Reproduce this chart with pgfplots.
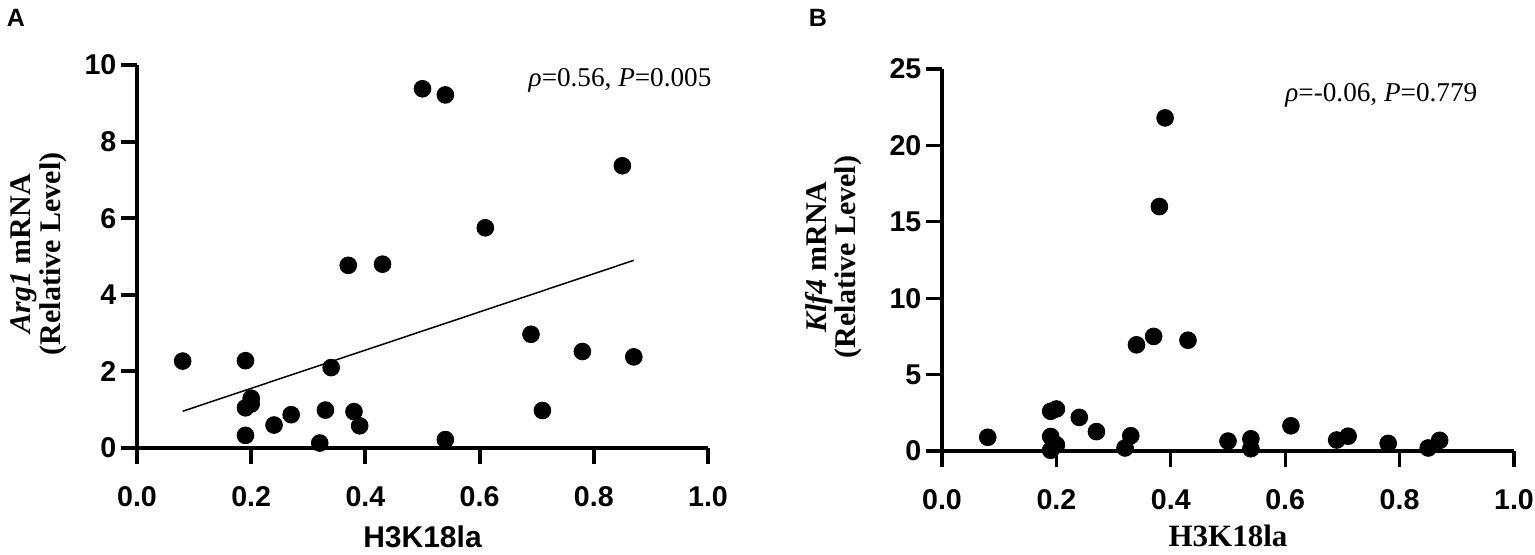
\documentclass[border=0pt]{standalone}
\usepackage{pgfplots}
\pgfplotsset{compat=1.18}
\usepackage{fontspec}
\setmainfont{Liberation Serif}
\newfontfamily\arial{Liberation Sans}

\pgfplotstableread{
x y
0.08 2.27
0.19 2.28
0.19 1.05
0.20 1.30
0.20 1.15
0.19 0.33
0.24 0.60
0.27 0.87
0.32 0.13
0.33 0.99
0.34 2.10
0.37 4.77
0.38 0.95
0.39 0.58
0.43 4.80
0.50 9.38
0.54 9.22
0.54 0.22
0.61 5.75
0.69 2.97
0.71 0.98
0.78 2.52
0.85 7.37
0.87 2.38
}\dataA

\pgfplotstableread{
x y
0.08 0.90
0.19 2.60
0.20 2.75
0.19 0.95
0.19 0.05
0.20 0.40
0.24 2.20
0.27 1.27
0.32 0.20
0.33 1.00
0.34 6.95
0.37 7.50
0.38 16.00
0.39 21.80
0.43 7.25
0.50 0.65
0.54 0.80
0.54 0.15
0.61 1.65
0.69 0.72
0.71 0.97
0.78 0.50
0.85 0.20
0.87 0.70
}\dataB

\pgfplotsset{
  myax/.style={
    scale only axis,
    anchor=south west,
    axis lines=left,
    axis line style={-, line width=#1},
    every tick/.style={black, line width=#1},
    tick align=outside,
    major tick length=7.8pt,
    minor tick num=0,
    xmin=0, xmax=1,
    xtick={0,0.2,0.4,0.6,0.8,1},
    tick label style={font=\arial\bfseries\fontsize{14.3}{14.3}\selectfont},
    /pgf/number format/assume math mode=true,
    xticklabel style={yshift=-8pt, /pgf/number format/.cd, fixed, fixed zerofill, precision=1},
    yticklabel style={xshift=1pt, /pgf/number format/.cd, fixed, precision=0},
    clip=false,
  },
  dots/.style={only marks, mark=*, mark size=4.2pt, black, mark options={fill=black, draw=black}},
}

\begin{document}
\begin{tikzpicture}
\path[use as bounding box] (0pt,0pt) rectangle (767.5pt,-277pt);

\begin{axis}[myax=2pt,
  at={(68.5pt,-224pt)}, width=285.5pt, height=191.5pt,
  ymin=0, ymax=10, ytick={0,2,4,6,8,10},
  xlabel={H3K18la},
  xlabel style={font=\arial\bfseries\fontsize{15}{15}\selectfont, at={(axis description cs:0.5,-0.232)}, anchor=center},
  ylabel={\textbf{\textit{Arg1} mRNA}\\\textbf{(Relative Level)}},
  ylabel style={align=center, font=\fontsize{15}{12.8}\selectfont, at={(axis description cs:-0.172,0.507)}, anchor=center},
]
\addplot[black, line width=0.75pt, mark=none] coordinates {(0.08,0.96) (0.87,4.90)};
\addplot[dots] table[x=x,y=y] {\dataA};
\node[font=\fontsize{13.6}{13.6}\selectfont, anchor=center] at (axis cs:0.846,9.61) {\textit{ρ}=0.56, \textit{P}=0.005};
\end{axis}

\begin{axis}[myax=1.6pt,
  at={(471pt,-225.5pt)}, width=286pt, height=191pt,
  ymin=0, ymax=25, ytick={0,5,10,15,20,25},
  xlabel={\textbf{H3K18la}},
  xlabel style={font=\fontsize{15.5}{15.5}\selectfont, at={(axis description cs:0.5,-0.222)}, anchor=center},
  ylabel={\textbf{\textit{Klf4} mRNA}\\\textbf{(Relative Level)}},
  ylabel style={align=center, font=\fontsize{15}{12.8}\selectfont, at={(axis description cs:-0.19,0.508)}, anchor=center},
]
\addplot[dots] table[x=x,y=y] {\dataB};
\node[font=\fontsize{13.6}{13.6}\selectfont, anchor=center] at (axis cs:0.768,23.3) {\textit{ρ}=-0.06, \textit{P}=0.779};
\end{axis}

\node[font=\arial\bfseries\fontsize{12.5}{12.5}\selectfont, anchor=center] at (8pt,-9pt) {A};
\node[font=\arial\bfseries\fontsize{12.5}{12.5}\selectfont, anchor=center] at (409pt,-9pt) {B};
\end{tikzpicture}
\end{document}
